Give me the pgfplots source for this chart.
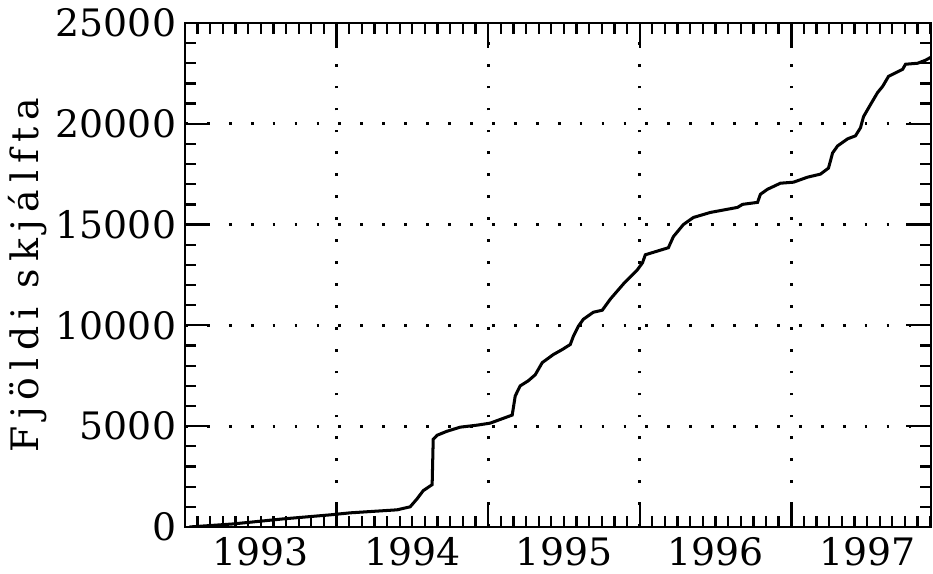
\documentclass[border=0pt]{standalone}
\usepackage{fontspec}
\setmainfont{DejaVu Serif}
\newfontfamily\labfont[LetterSpace=19]{DejaVu Serif}
\usepackage{pgfplots}
\pgfplotsset{compat=1.18}

\begin{document}
\begin{tikzpicture}
\begin{axis}[
    scale only axis,
    width=296pt, height=200pt,
    xmin=1993, xmax=1997.92,
    ymin=0, ymax=25000,
    scaled ticks=false,
    axis line style={line width=1pt},
    xtick={1994,1995,1996,1997},
    xticklabels={},
    extra x ticks={1993.5,1994.5,1995.5,1996.5,1997.5},
    extra x tick labels={1993,1994,1995,1996,1997},
    extra x tick style={grid=none, major tick length=0pt},
    minor xtick={1993,1993.083333,...,1997.92},
    ytick={0,5000,...,25000},
    minor y tick num=4,
    tick align=inside,
    major tick length=10pt,
    minor tick length=4.4pt,
    tick style={line width=0.9pt, black},
    grid=major,
    major grid style={line width=1.1pt, dash pattern=on 1.1pt off 7.6pt, black},
    /pgf/number format/1000 sep={},
    /pgf/number format/assume math mode=true,
    ticklabel style={font=\fontsize{15}{17}\selectfont},
    xticklabel style={yshift=-0.5pt},
    ylabel={Fjöldi skjálfta},
    ylabel style={font=\labfont\fontsize{15}{18}\selectfont,
        at={(axis description cs:-0.211,0.5)}, anchor=center},
]
% uppsafnaður fjöldi skjálfta
\addplot[black, line width=1.2pt] coordinates {
    (1993.03,0) (1993.317,150) (1993.647,400) (1993.957,600)
    (1994.089,700) (1994.399,850) (1994.485,1000) (1994.531,1400)
    (1994.571,1800) (1994.630,2100) (1994.637,4350) (1994.663,4550)
    (1994.729,4750) (1994.815,4950) (1994.927,5050) (1995.013,5150)
    (1995.158,5550) (1995.178,6500) (1995.211,7000) (1995.264,7250)
    (1995.310,7550) (1995.356,8150) (1995.429,8550) (1995.488,8800)
    (1995.541,9050) (1995.561,9450) (1995.594,9950) (1995.627,10300)
    (1995.693,10650) (1995.752,10750) (1995.805,11300) (1995.891,12050)
    (1995.983,12750) (1996.017,13100) (1996.036,13500) (1996.188,13850)
    (1996.221,14400) (1996.287,15000) (1996.353,15350) (1996.465,15600)
    (1996.644,15850) (1996.677,16000) (1996.776,16100) (1996.795,16500)
    (1996.842,16750) (1996.927,17050) (1997.013,17100) (1997.106,17350)
    (1997.191,17500) (1997.244,17800) (1997.271,18550) (1997.304,18900)
    (1997.370,19250) (1997.422,19400) (1997.455,19800) (1997.475,20350)
    (1997.521,20950) (1997.568,21550) (1997.601,21850) (1997.640,22350)
    (1997.733,22700) (1997.752,22950) (1997.832,23000) (1997.884,23150)
    (1997.920,23300)
};
\coordinate (bl) at (axis description cs:-0.248,-0.0931);
\coordinate (tr) at (axis description cs:1.0027,1.0455);
\end{axis}
\pgfresetboundingbox
\path[use as bounding box] (bl) rectangle (tr);
\end{tikzpicture}
\end{document}
